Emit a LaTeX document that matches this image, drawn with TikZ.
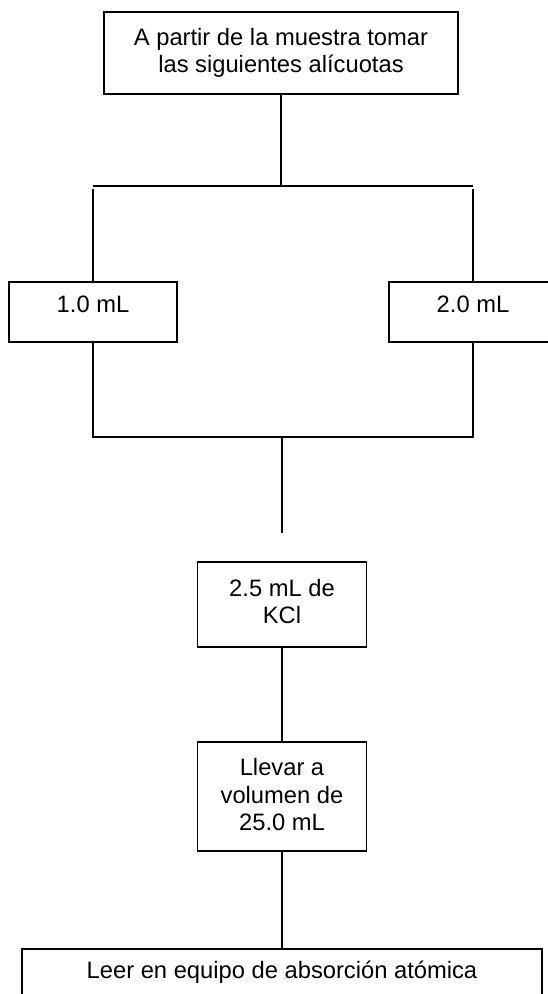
\documentclass[tikz,border=0pt]{standalone}
\usepackage{fontspec}
\setmainfont{Liberation Sans}
\usetikzlibrary{shapes,arrows}

\begin{document}
\begin{tikzpicture}[x=0.75pt,y=0.75pt,yscale=-1,xscale=1,
    caja/.style={draw, line width=1pt, align=center, inner sep=0pt, font=\fontsize{17.8}{20.5}\selectfont},
    linea/.style={line width=1pt}]
    \useasboundingbox (0,0) rectangle (548,994);
    \clip (0,0) rectangle (548,994);

    % Text Node
    \node [caja, minimum width=265.5pt, minimum height=61.5pt] (muestra) at (281,53) {A partir de la muestra tomar\\las siguientes alícuotas};
    % Text Node
    \node [caja, minimum width=126pt, minimum height=45pt, text depth=11pt] (alicA) at (93,312) {1.0 mL};
    % Text Node
    \node [caja, minimum width=126pt, minimum height=45pt, text depth=11pt] (alicB) at (473,312) {2.0 mL};
    % Text Node
    \node [caja, minimum width=126.75pt, minimum height=63.75pt, text depth=5pt] (kcl) at (282,604.5) {2.5 mL de\\KCl};
    % Text Node
    \node [caja, minimum width=126.75pt, minimum height=81.75pt, text depth=3pt] (aforo) at (282,796.5) {Llevar a\\volumen de\\25.0 mL};
    % Text Node
    \node [caja, minimum width=390pt, minimum height=34.5pt] (lectura) at (282,972) {Leer en equipo de absorción atómica};

    \coordinate (barraIzq) at (93,186);
    \coordinate (barraDer) at (473,186);
    \coordinate (union) at (282,437);
    \coordinate (fin) at (282,533);

    %Straight Lines
    \draw [linea] (muestra.south) -- (muestra.south |- barraIzq);
    %Straight Lines
    \draw [linea] (barraIzq) -- (barraDer);
    %Straight Lines
    \draw [linea] (alicA.north) -- ([yshift=2.25pt]barraIzq);
    \draw [linea] (alicB.north) -- ([yshift=2.25pt]barraDer);
    %Straight Lines
    \draw [linea] (alicA.south) |- (union) -| (alicB.south);
    \draw [linea] (union) -- (fin);
    %Straight Lines
    \draw [linea] (kcl.south) -- (aforo.north);
    \draw [linea] (aforo.south) -- (lectura.north);

\end{tikzpicture}
\end{document}
